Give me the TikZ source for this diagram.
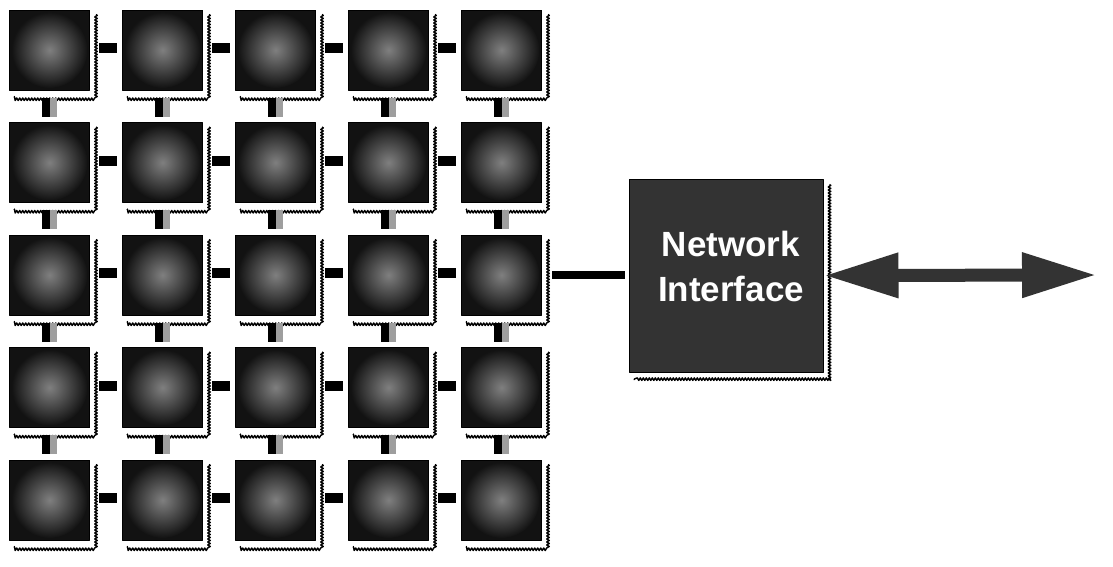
\documentclass[tikz,border=0pt]{standalone}
\usepackage{fontspec}
\setmainfont{Liberation Sans}
\usetikzlibrary{arrows.meta, calc, positioning, decorations.pathmorphing}
\definecolor{chipgray}{gray}{0.07}
\definecolor{coregray}{gray}{0.5}
\definecolor{nigray}{gray}{0.2}
\definecolor{linkgray}{gray}{0.62}

\begin{document}
\begin{tikzpicture}[x=1pt, y=-1pt, line join=round, >=Triangle,
	chip/.style={draw=black, line width=1pt, fill=chipgray, minimum size=80pt, inner sep=0pt},
	shadowline/.style={line width=1.4pt, decorate, decoration={snake, amplitude=1.3pt, segment length=3pt}},
	hlink/.style={line width=10pt, shorten <=9pt, shorten >=5pt},
	vlinkdark/.style={line width=8pt, black, shorten <=7pt, shorten >=5.5pt},
	vlinklight/.style={line width=7pt, linkgray, shorten <=7pt, shorten >=5.5pt}]
	\useasboundingbox (0,0) rectangle (1113,566);

	% 5x5 array of chips
	\foreach \i in {1,...,5} {
		\foreach \j in {1,...,5} {
			\node[chip] (c-\i-\j) at ({49.5+113*(\j-1)}, {50+112.5*(\i-1)}) {};
			\shade[inner color=coregray, outer color=chipgray] (c-\i-\j.center) circle (38);
			\draw[shadowline] ([xshift=6pt,yshift=-5pt]c-\i-\j.north east) -- ([xshift=6pt,yshift=-6pt]c-\i-\j.south east)
				-- ([xshift=5pt,yshift=-6pt]c-\i-\j.south west);
		}
	}

	% horizontal links
	\foreach \i in {1,...,5} {
		\foreach \j [count=\k from 2] in {1,...,4} {
			\draw[hlink] ([yshift=2pt]c-\i-\j.east) -- ([yshift=2pt]c-\i-\k.west);
		}
	}

	% vertical links
	\foreach \i [count=\k from 2] in {1,...,4} {
		\foreach \j in {1,...,5} {
			\draw[vlinkdark] ([xshift=-3.5pt]c-\i-\j.south) -- ([xshift=-3.5pt]c-\k-\j.north);
			\draw[vlinklight] ([xshift=4pt]c-\i-\j.south) -- ([xshift=4pt]c-\k-\j.north);
		}
	}

	% network interface
	\node[draw=black, line width=1pt, fill=nigray, minimum width=194pt, minimum height=193pt, inner sep=0pt] (ni) at (726,275.5) {};
	\node[text=white, align=center, font=\bfseries\fontsize{35}{45}\selectfont] (nitext) at (731,266) {Network\\Interface};
	\draw[shadowline] ([xshift=6pt,yshift=-6pt]ni.north east) -- ([xshift=6pt,yshift=-7pt]ni.south east)
		-- ([xshift=5pt,yshift=-7pt]ni.south west);
	\draw[line width=8pt, shorten <=10pt, shorten >=4pt] (c-3-5.east) -- (c-3-5.east -| ni.west);

	% external link
	\coordinate (out) at (1097,275);
	\draw[nigray, line width=13pt, {Triangle[length=75pt, width=42pt]}-{Triangle[length=75pt, width=42pt]}] (ni.east) -- (out);

\end{tikzpicture}
\end{document}
